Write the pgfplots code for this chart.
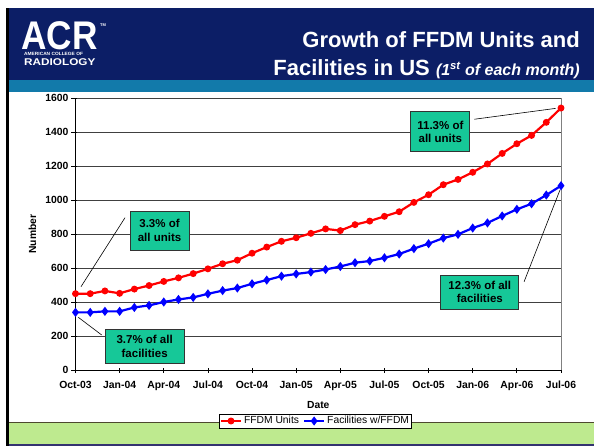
\documentclass[border=0pt]{standalone}
\usepackage{fontspec}
\setmainfont{Liberation Sans}
\usepackage{pgfplots}
\pgfplotsset{compat=1.18}
\definecolor{navy}{RGB}{12,30,102}
\definecolor{stripe}{RGB}{18,122,170}
\definecolor{band}{RGB}{190,234,143}
\definecolor{callout}{RGB}{22,200,152}
\begin{document}
\begin{tikzpicture}[x=1pt,y=-1pt]
\fill[white] (0,0) rectangle (594,446);
\fill[navy] (6,8) rectangle (594,80);
\fill[stripe] (6,80) rectangle (594,92);
\fill[band] (8,422) rectangle (594,444);
\draw[black!60!olive, line width=0.8pt] (8,422) -- (594,422);
\fill[black!60!blue!60!gray] (8,444) rectangle (594,446);
\fill[black] (6,8) rectangle (9,446);
% logo
\node[white, anchor=base west, inner sep=0pt, text depth=0pt, font=\fontsize{40}{40}\selectfont\bfseries, xscale=0.88] at (21,50) {ACR};
\node[white, anchor=base west, inner sep=0pt, font=\fontsize{4}{4}\selectfont\bfseries] at (100,27) {TM};
\node[white, anchor=base west, inner sep=0pt, text depth=0pt, text height=3.3pt, font=\fontsize{4.6}{5}\selectfont\bfseries, xscale=1.05] at (24,56) {AMERICAN COLLEGE OF};
\node[white, anchor=base west, inner sep=0pt, text height=7pt, font=\fontsize{9.8}{10}\selectfont\bfseries, xscale=1.2] at (24,65.5) {RADIOLOGY};
% title
\node[white, anchor=base east, inner sep=0pt, font=\fontsize{22}{24}\selectfont\bfseries] at (580,48) {Growth of FFDM Units and};
\node[white, anchor=base east, inner sep=0pt, font=\fontsize{22}{24}\selectfont\bfseries] at (580,76) {Facilities in US {\fontsize{16}{18}\selectfont\itshape (1\textsuperscript{st} of each month)}};
\begin{axis}[
  at={(75.5pt,-370pt)}, anchor=south west,
  scale only axis, width=485.5pt, height=272pt,
  xmin=0, xmax=33, ymin=0, ymax=1600,
  axis lines*=left,
  axis line style={black, line width=1pt},
  xtick={0,3,...,33},
  xticklabels={Oct-03,Jan-04,Apr-04,Jul-04,Oct-04,Jan-05,Apr-05,Jul-05,Oct-05,Jan-06,Apr-06,Jul-06},
  ytick={0,200,...,1600},
  ymajorgrids, grid style={black!75, line width=0.6pt},
  tick align=center, major tick length=5pt,
  tick style={black, line width=0.8pt},
  ytick style={xshift=-1.5pt},
  tick label style={font=\fontsize{10.4}{12}\selectfont\bfseries},
  /pgf/number format/assume math mode=true,
  /pgf/number format/1000 sep={},
  xticklabel style={yshift=-5pt},
  yticklabel style={xshift=-1pt},
  xlabel={Date}, ylabel={Number},
  label style={font=\fontsize{10.3}{12}\selectfont\bfseries},
  xlabel style={at={(axis description cs:0.5,-0.1305)}, anchor=center},
  ylabel style={at={(axis description cs:-0.0886,0.5)}, anchor=center},
  legend columns=2,
  legend style={at={(0.4943,-0.1875)}, anchor=center, draw=black, line width=0.8pt, fill=white,
    font=\fontsize{10.3}{12}\selectfont, inner sep=0.5pt,
    /tikz/every even column/.append style={column sep=2pt}},
  legend image code/.code={\draw[mark repeat=2,mark phase=2,#1] plot coordinates {(0pt,0pt) (10pt,0pt) (20pt,0pt)};},
  clip=false,
]
\draw[gray, line width=0.8pt] (axis cs:33,0) -- (axis cs:33,1600);
\addplot[red, line width=2.2pt, mark=*, mark size=2.3pt, mark options={solid}] coordinates {
(0,449) (1,449) (2,465) (3,451) (4,476) (5,497) (6,521) (7,542) (8,567) (9,595)
(10,625) (11,646) (12,687) (13,723) (14,757) (15,778) (16,804) (17,830) (18,820) (19,855)
(20,876) (21,904) (22,931) (23,986) (24,1031) (25,1090) (26,1121) (27,1163) (28,1212) (29,1274)
(30,1331) (31,1380) (32,1457) (33,1541)};
\addlegendentry{FFDM Units}
\addplot[blue, line width=2.2pt, mark=diamond*, mark size=2.8pt, mark options={solid}] coordinates {
(0,339) (1,339) (2,345) (3,345) (4,368) (5,380) (6,400) (7,415) (8,427) (9,448)
(10,467) (11,482) (12,507) (13,529) (14,552) (15,565) (16,576) (17,591) (18,609) (19,631)
(20,641) (21,660) (22,682) (23,714) (24,743) (25,776) (26,798) (27,835) (28,865) (29,906)
(30,945) (31,978) (32,1029) (33,1084)};
\addlegendentry{Facilities w/FFDM}
% callout lines
\draw[black, line width=0.6pt] (axis cs:0.374,490) -- (axis cs:3.365,896);
\draw[black, line width=0.6pt] (axis cs:0.19,310) -- (axis cs:1.78,206);
\draw[black, line width=0.6pt] (axis cs:27.11,1475) -- (axis cs:32.64,1539);
\draw[black, line width=0.6pt] (axis cs:30.49,519) -- (axis cs:32.93,1059);
% callout boxes
\tikzset{cbox/.style={draw=black!80, line width=0.8pt, fill=callout, align=center, inner sep=1pt,
  font=\fontsize{11.5}{13.5}\selectfont\bfseries}}
\node[cbox, minimum width=59pt, minimum height=39pt] at (axis cs:5.71,821) {3.3\% of\\all units};
\node[cbox, minimum width=79pt, minimum height=34pt] at (axis cs:4.70,140) {3.7\% of all\\facilities};
\node[cbox, minimum width=59pt, minimum height=40pt] at (axis cs:24.80,1401) {11.3\% of\\all units};
\node[cbox, minimum width=78pt, minimum height=34pt] at (axis cs:27.48,459) {12.3\% of all\\facilities};
\end{axis}
\pgfresetboundingbox
\useasboundingbox (0,0) rectangle (594,446);
\end{tikzpicture}
\end{document}
